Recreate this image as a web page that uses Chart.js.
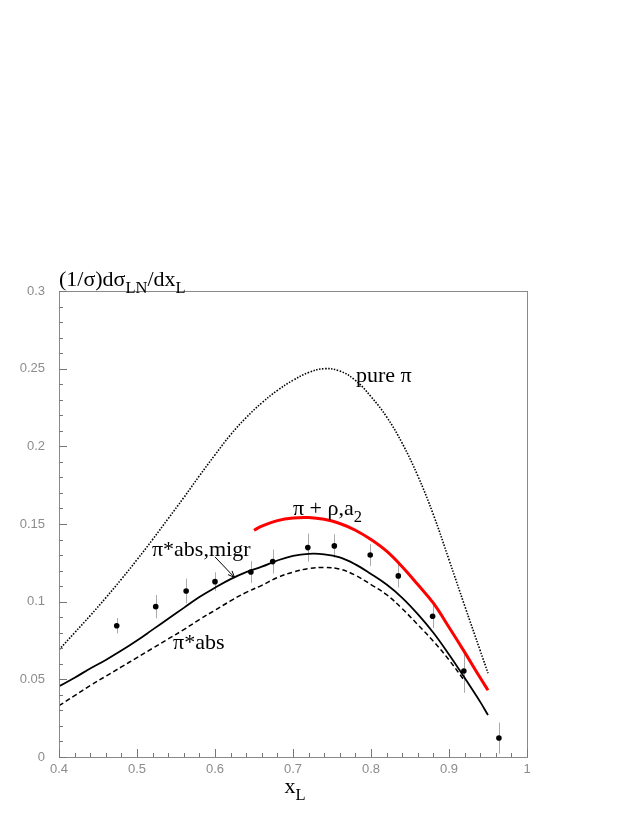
<!DOCTYPE html>
<html>
<head>
<meta charset="utf-8">
<script src="https://cdn.jsdelivr.net/npm/chart.js@4"></script>
<style>
html, body { margin: 0; padding: 0; background: #fff; }
</style>
</head>
<body>
<canvas id="chart" width="632" height="817"></canvas>
<script>
// curves
const curveX = [0.40, 0.42, 0.44, 0.46, 0.48, 0.50, 0.52, 0.54, 0.56, 0.58, 0.60, 0.62, 0.64, 0.66, 0.68,
  0.70, 0.72, 0.74, 0.76, 0.78, 0.80, 0.82, 0.84, 0.86, 0.88, 0.90, 0.92, 0.94, 0.95];
const purePi = [0.069, 0.080, 0.091, 0.1025, 0.1145, 0.127, 0.140, 0.1535, 0.167, 0.181, 0.1945, 0.2075, 0.2185, 0.228, 0.236,
  0.2425, 0.2475, 0.2500, 0.2485, 0.2425, 0.2320, 0.2190, 0.2020, 0.1810, 0.1560, 0.1270, 0.0975, 0.0685, 0.054];
const absMigr = [0.0455, 0.051, 0.057, 0.0625, 0.0685, 0.075, 0.082, 0.089, 0.096, 0.103, 0.109, 0.1145, 0.119, 0.1225, 0.1265,
  0.1295, 0.1308, 0.1305, 0.1285, 0.1240, 0.1178, 0.1110, 0.1025, 0.0920, 0.0800, 0.0660, 0.0510, 0.0355, 0.027];

const absX = [0.40, 0.42, 0.44, 0.46, 0.48, 0.50, 0.52, 0.54, 0.56, 0.58, 0.60, 0.62, 0.64, 0.66, 0.68,
  0.70, 0.72, 0.74, 0.76, 0.78, 0.80, 0.82, 0.84, 0.86, 0.88, 0.90, 0.92];
const absOnly = [0.033, 0.0395, 0.046, 0.052, 0.058, 0.064, 0.070, 0.076, 0.082, 0.0885, 0.0945, 0.1005, 0.106, 0.1105, 0.1155,
  0.119, 0.1213, 0.1220, 0.121, 0.117, 0.111, 0.1045, 0.0955, 0.0852, 0.0745, 0.0625, 0.049];

const rhoX = [0.65, 0.66, 0.68, 0.70, 0.72, 0.74, 0.76, 0.78, 0.80, 0.82, 0.84, 0.86, 0.88, 0.90, 0.92, 0.94, 0.95];
const piRhoA2 = [0.146, 0.1487, 0.1522, 0.1539, 0.1542, 0.1530, 0.1503, 0.1460, 0.1400, 0.1325, 0.1225, 0.1110, 0.0990, 0.0835, 0.0675, 0.0510, 0.0430];

// measured points
const dataX = [0.474, 0.524, 0.563, 0.600, 0.646, 0.674, 0.719, 0.753, 0.799, 0.835, 0.879, 0.919, 0.964];
const dataY = [0.0845, 0.0968, 0.1069, 0.1129, 0.1191, 0.1258, 0.1348, 0.1359, 0.130, 0.1166, 0.0906, 0.0554, 0.0122];
const dataErr = [0.005, 0.0075, 0.008, 0.006, 0.007, 0.0077, 0.009, 0.0075, 0.007, 0.0075, 0.0075, 0.014, 0.01];

const xTicks = [0.4, 0.5, 0.6, 0.7, 0.8, 0.9, 1];
const yTicks = [0, 0.05, 0.1, 0.15, 0.2, 0.25, 0.3];

function pts(xs, ys) {
  return xs.map(function (x, i) { return { x: x, y: ys[i] }; });
}

const serif = '"Liberation Serif", "Times New Roman", serif';

// text with subscripts: parts = [[text, isSub], ...]
function drawRich(ctx, parts, x, y, size, align) {
  let total = 0;
  parts.forEach(function (p) {
    ctx.font = (p[1] ? size * 0.75 : size) + 'px ' + serif;
    total += ctx.measureText(p[0]).width;
  });
  let cx = align === 'center' ? x - total / 2 : x;
  ctx.textAlign = 'left';
  ctx.textBaseline = 'alphabetic';
  parts.forEach(function (p) {
    ctx.font = (p[1] ? size * 0.75 : size) + 'px ' + serif;
    ctx.fillText(p[0], cx, p[1] ? y + size * 0.3 : y);
    cx += ctx.measureText(p[0]).width;
  });
}

const errorBars = {
  id: 'errorBars',
  beforeDatasetsDraw(chart) {
    const ctx = chart.ctx, xs = chart.scales.x, ys = chart.scales.y;
    ctx.save();
    ctx.strokeStyle = '#aaaaaa';
    ctx.lineWidth = 1;
    dataX.forEach(function (x, i) {
      const px = Math.round(xs.getPixelForValue(x)) + 0.5;
      ctx.beginPath();
      ctx.moveTo(px, ys.getPixelForValue(dataY[i] - dataErr[i]));
      ctx.lineTo(px, ys.getPixelForValue(dataY[i] + dataErr[i]));
      ctx.stroke();
    });
    ctx.restore();
  }
};

const frame = {
  id: 'frame',
  afterDraw(chart) {
    const ctx = chart.ctx, a = chart.chartArea, xs = chart.scales.x, ys = chart.scales.y;
    ctx.save();
    ctx.strokeStyle = '#8a8a8a';
    ctx.lineWidth = 1;
    ctx.strokeRect(Math.round(a.left) + 0.5, Math.round(a.top) + 0.5,
      Math.round(a.right - a.left), Math.round(a.bottom - a.top));
    ctx.strokeStyle = '#777';
    // x ticks, every 0.02
    for (let i = 0; i <= 30; i++) {
      const px = Math.round(xs.getPixelForValue(0.4 + i * 0.02)) + 0.5;
      const len = i % 5 === 0 ? 8 : 4;
      ctx.beginPath();
      ctx.moveTo(px, a.bottom);
      ctx.lineTo(px, a.bottom - len);
      ctx.stroke();
    }
    // y ticks, every 0.01
    for (let i = 0; i <= 30; i++) {
      const py = Math.round(ys.getPixelForValue(i * 0.01)) + 0.5;
      const len = i % 5 === 0 ? 8 : 4;
      ctx.beginPath();
      ctx.moveTo(a.left, py);
      ctx.lineTo(a.left + len, py);
      ctx.stroke();
    }

    ctx.fillStyle = '#000';
    // axis titles
    drawRich(ctx, [['(1/σ)dσ', false], ['LN', true], ['/dx', false], ['L', true]], a.left, a.top - 5, 22, 'left');
    drawRich(ctx, [['x', false], ['L', true]], xs.getPixelForValue(0.7) + 2, a.bottom + 36, 22, 'center');

    // curve labels
    const lab = function (parts, x, y) {
      drawRich(ctx, parts, xs.getPixelForValue(x), ys.getPixelForValue(y), 22, 'left');
    };
    lab([['pure π', false]], 0.7808, 0.2415);
    lab([['π + ρ,a', false], ['2', true]], 0.700, 0.1558);
    lab([['π*abs,migr', false]], 0.5192, 0.1294);
    lab([['π*abs', false]], 0.5462, 0.0695);

    // arrow to the abs,migr curve
    const x0 = xs.getPixelForValue(0.600), y0 = ys.getPixelForValue(0.1288);
    const x1 = xs.getPixelForValue(0.625), y1 = ys.getPixelForValue(0.1156);
    const ang = Math.atan2(y1 - y0, x1 - x0);
    ctx.strokeStyle = '#000';
    ctx.beginPath();
    ctx.moveTo(x0, y0);
    ctx.lineTo(x1, y1);
    ctx.moveTo(x1 - 7 * Math.cos(ang - 0.4), y1 - 7 * Math.sin(ang - 0.4));
    ctx.lineTo(x1, y1);
    ctx.lineTo(x1 - 7 * Math.cos(ang + 0.4), y1 - 7 * Math.sin(ang + 0.4));
    ctx.stroke();
    ctx.restore();
  }
};

const ctx = document.getElementById('chart').getContext('2d');

new Chart(ctx, {
  type: 'scatter',
  data: {
    datasets: [
      {
        label: 'pure π',
        data: pts(curveX, purePi),
        showLine: true,
        borderColor: '#000',
        borderWidth: 1.6,
        borderDash: [1.5, 1.5],
        pointRadius: 0,
        tension: 0.4
      },
      {
        label: 'π*abs',
        data: pts(absX, absOnly),
        showLine: true,
        borderColor: '#000',
        borderWidth: 1.5,
        borderDash: [5, 3],
        pointRadius: 0,
        tension: 0.4
      },
      {
        label: 'π*abs,migr',
        data: pts(curveX, absMigr),
        showLine: true,
        borderColor: '#000',
        borderWidth: 1.8,
        pointRadius: 0,
        tension: 0.4
      },
      {
        label: 'π + ρ,a2',
        data: pts(rhoX, piRhoA2),
        showLine: true,
        borderColor: '#ff0000',
        borderWidth: 3,
        pointRadius: 0,
        tension: 0.4
      },
      {
        label: 'data',
        data: pts(dataX, dataY),
        showLine: false,
        pointRadius: 2.8,
        pointBackgroundColor: '#000',
        pointBorderWidth: 0,
        borderColor: '#000'
      }
    ]
  },
  options: {
    responsive: false,
    animation: false,
    layout: { padding: { top: 291, right: 105, left: 0, bottom: 0 } },
    plugins: {
      legend: { display: false },
      tooltip: { enabled: false }
    },
    scales: {
      x: {
        type: 'linear',
        min: 0.4,
        max: 1,
        afterBuildTicks: function (scale) { scale.ticks = xTicks.map(function (v) { return { value: v }; }); },
        afterFit: function (scale) { scale.height = 60; },
        border: { display: false },
        grid: { display: false, drawTicks: false },
        ticks: {
          padding: 5,
          color: '#8c8c8c',
          font: { family: '"Liberation Sans", Arial, sans-serif', size: 13 },
          maxRotation: 0,
          callback: function (v) { return String(parseFloat(v.toFixed(2))); }
        }
      },
      y: {
        type: 'linear',
        min: 0,
        max: 0.3,
        afterBuildTicks: function (scale) { scale.ticks = yTicks.map(function (v) { return { value: v }; }); },
        afterFit: function (scale) { scale.width = 59; },
        border: { display: false },
        grid: { display: false, drawTicks: false },
        ticks: {
          padding: 14,
          color: '#8c8c8c',
          font: { family: '"Liberation Sans", Arial, sans-serif', size: 13 },
          callback: function (v) { return String(parseFloat(v.toFixed(2))); }
        }
      }
    }
  },
  plugins: [errorBars, frame]
});
</script>
</body>
</html>
